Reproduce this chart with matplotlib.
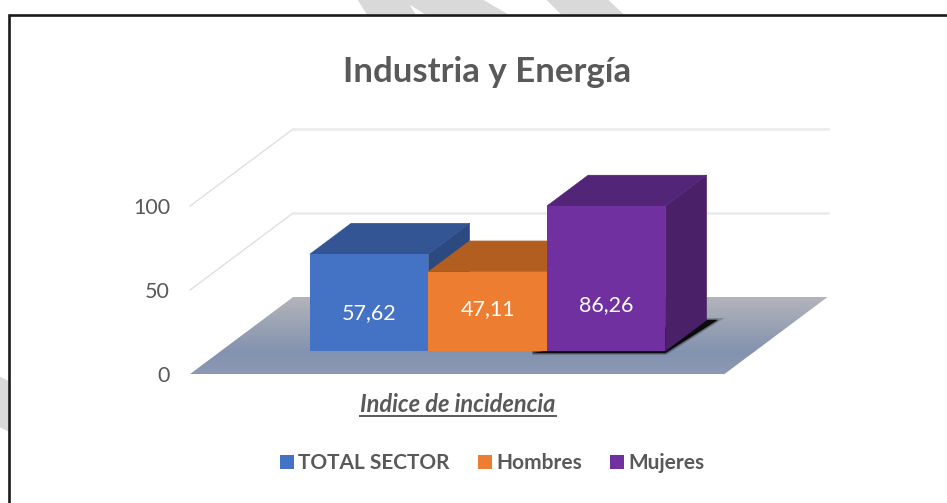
#!/usr/bin/env python
"""Industria y Energia: oblique 3D style bar chart drawn on flat axes."""

from __future__ import annotations

import matplotlib
matplotlib.use("Agg")
import matplotlib.pyplot as plt
import numpy as np
from matplotlib.patches import Patch, Polygon

series = ["TOTAL SECTOR", "Hombres", "Mujeres"]
values = [57.62, 47.11, 86.26]
value_labels = ["57,62", "47,11", "86,26"]
y_ticks = [0, 50, 100]

TITLE = "Industria y Energía"
AXIS_TITLE = "Indice de incidencia"

GREY = "#595959"
FRONT = ["#4472C4", "#ED7D31", "#7030A0"]
TOP = ["#335593", "#B35E21", "#532578"]
SIDE = ["#2C4A80", "#9E5220", "#4A2069"]

W, H = 947, 503
PX_PER_CAT = 118.5
PX_PER_VAL = 1.68
X0_PX, Y0_PX = 338.25, 374.0  # where category 0 / value 0 land, at depth 0
DEPTH_X = 103 / PX_PER_CAT
DEPTH_Y = 77 / PX_PER_VAL
BAR_FRONT, BAR_BACK = 0.30, 0.70
FLOOR_L, FLOOR_R = -1.25, 3.26


def proj(x: float, v: float, d: float) -> tuple[float, float]:
    return x + d * DEPTH_X, v + d * DEPTH_Y


def quad(ax, pts, color, z, **kw) -> Polygon:
    # thin same colour edge hides antialiasing seams between faces
    poly = Polygon(pts, closed=True, facecolor=color, edgecolor=color, lw=0.4, zorder=z, **kw)
    ax.add_patch(poly)
    return poly


fig = plt.figure(figsize=(W / 100, H / 100), dpi=100, facecolor="white")
plt.rcParams["font.family"] = ["Lato", "DejaVu Sans"]

# page decoration, in pixels
bg = fig.add_axes([0, 0, 1, 1])
bg.set_xlim(0, W)
bg.set_ylim(H, 0)
bg.axis("off")
for pts in (
    [(358, 0), (367, 14), (415, 14), (409, 4), (425, 14), (507, 14), (483, 0)],
    [(547, 0), (561, 14), (623, 14), (608, 0)],
    [(0, 377), (8, 381), (8, 431), (0, 427)],
):
    quad(bg, pts, "#D9D9D9", 1)
bg.plot([8.5, 8.5, W], [H, 15, 15], color="#1A1A1A", lw=1.9, solid_joinstyle="miter", zorder=2)

# chart, in category / value units
ax = fig.add_axes([0, 0, 1, 1])
ax.patch.set_alpha(0)
ax.axis("off")

# floor with a vertical gradient
floor = [proj(FLOOR_L, 0, 0), proj(FLOOR_R, 0, 0), proj(FLOOR_R, 0, 1), proj(FLOOR_L, 0, 1)]
stops = np.array([0.0, 0.72, 1.0])
rgb = np.array([[178, 180, 185], [131, 146, 176], [140, 153, 180]]) / 255
t = np.linspace(0, 1, 80)
grad = np.stack([np.interp(t, stops, rgb[:, i]) for i in range(3)], axis=1)[:, None, :]
img = ax.imshow(
    grad, extent=(FLOOR_L, proj(FLOOR_R, 0, 1)[0], 0, DEPTH_Y),
    origin="upper", aspect="auto", zorder=1,
)
img.set_clip_path(Polygon(floor, closed=True, transform=ax.transData))
ax.set_xlim((0 - X0_PX) / PX_PER_CAT, (W - X0_PX) / PX_PER_CAT)
ax.set_ylim((Y0_PX - H) / PX_PER_VAL, Y0_PX / PX_PER_VAL)

# grid lines: left wall then back wall
for tick in y_ticks[1:]:
    xs, ys = zip(proj(FLOOR_L, tick, 0), proj(FLOOR_L, tick, 1))
    ax.plot(xs, ys, color="#E0E0E0", lw=1.0, zorder=2)
    xs, ys = zip(proj(FLOOR_L, tick, 1), proj(FLOOR_R, tick, 1))
    ax.plot(xs, ys, color="#EAEAEA", lw=1.8, zorder=2)

# shadow under the last bar
last = len(values) - 1
shadow = [
    proj(last - 0.62, -1.2, BAR_FRONT),
    proj(last + 0.5, -1.2, BAR_FRONT),
    proj(last + 0.5 + 0.09, 0, BAR_BACK),
    proj(last + 0.5, 0, BAR_BACK),
    proj(last - 0.5, 0, BAR_FRONT),
]
for lw, alpha in ((3.0, 0.2), (1.5, 0.3), (0, 0.85)):
    ax.add_patch(Polygon(shadow, closed=True, facecolor="black", edgecolor="black",
                         lw=lw, alpha=alpha, zorder=3))

# bars, left to right so each one covers the previous side face
for i, val in enumerate(values):
    z = 4 + i
    left, right = i - 0.5, i + 0.5
    quad(ax, [proj(right, 0, BAR_FRONT), proj(right, 0, BAR_BACK),
              proj(right, val, BAR_BACK), proj(right, val, BAR_FRONT)], SIDE[i], z)
    quad(ax, [proj(left, val, BAR_FRONT), proj(right, val, BAR_FRONT),
              proj(right, val, BAR_BACK), proj(left, val, BAR_BACK)], TOP[i], z)
    x_front, y_front = proj(i, 0, BAR_FRONT)
    ax.bar(x_front, val, width=1.0, bottom=y_front, color=FRONT[i], linewidth=0, zorder=z + 0.5)

label_heights = [22.5, 25.0, 27.0]
for i, (txt, h) in enumerate(zip(value_labels, label_heights)):
    x_front, y_front = proj(i, 0, BAR_FRONT)
    ax.text(x_front, y_front + h, txt, color="white", fontsize=15.5, ha="center", va="center", zorder=10)

for tick in y_ticks:
    ax.annotate(str(tick), xy=proj(FLOOR_L, tick, 0), xytext=(-20, -2), textcoords="offset pixels",
                color=GREY, fontsize=15.5, ha="right", va="center")

bg.text(487, 82, TITLE, color=GREY, fontsize=25, fontweight="bold", ha="center", va="baseline")
ax_title = bg.text(458, 404, AXIS_TITLE, color=GREY, fontsize=17, fontweight="bold", style="italic",
                   ha="center", va="center")

# underline follows the rendered text width
fig.canvas.draw()
bb = ax_title.get_window_extent(fig.canvas.get_renderer())
bg.plot([bb.x0, bb.x1], [415.5, 415.5], color=GREY, lw=1.4, zorder=2)

handles = [Patch(facecolor=c, edgecolor="none", label=s) for c, s in zip(FRONT, series)]
ax.legend(
    handles=handles, ncol=3, frameon=False, loc="center",
    bbox_to_anchor=(492 / W, 1 - 463 / H), bbox_transform=fig.transFigure,
    prop={"weight": "bold", "size": 15}, labelcolor=GREY,
    handlelength=0.67, handleheight=0.67, handletextpad=0.2, columnspacing=1.35,
)

fig.savefig("out.png", dpi=100)
plt.close(fig)
